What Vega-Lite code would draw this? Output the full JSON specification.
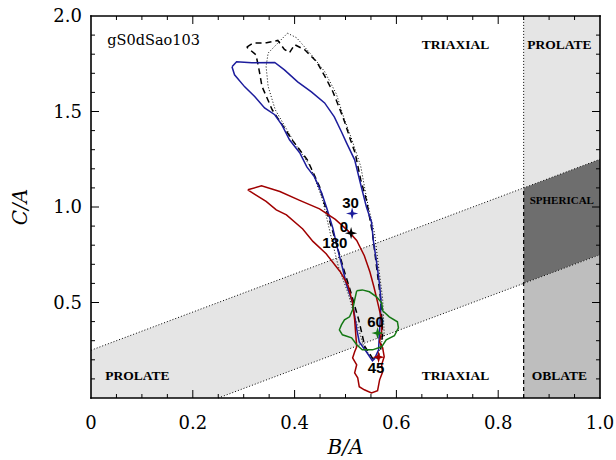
{
  "$schema": "https://vega.github.io/schema/vega-lite/v6.json",
  "width": 509,
  "height": 382,
  "autosize": {"type": "none"},
  "padding": {"left": 91, "top": 16, "right": 16, "bottom": 62},
  "background": "white",
  "config": {"view": {"stroke": null}},
  "datasets": {
    "bands": [
      {"g": "L", "b": 0, "lo": 0, "hi": 0.25},
      {"g": "L", "b": 0.25, "lo": 0, "hi": 0.5},
      {"g": "L", "b": 0.85, "lo": 0.6, "hi": 1.1},
      {"g": "P", "b": 0.85, "lo": 1.1, "hi": 2},
      {"g": "P", "b": 1, "lo": 1.25, "hi": 2},
      {"g": "S", "b": 0.85, "lo": 0.6, "hi": 1.1},
      {"g": "S", "b": 1, "lo": 0.75, "hi": 1.25},
      {"g": "O", "b": 0.85, "lo": 0, "hi": 0.6},
      {"g": "O", "b": 1, "lo": 0, "hi": 0.75}
    ],
    "rules": [
      {"k": "dot", "b": 0, "c": 0.25, "b2": 1, "c2": 1.25},
      {"k": "dot", "b": 0.25, "c": 0, "b2": 1, "c2": 0.75},
      {"k": "dot", "b": 0.85, "c": 1.1, "b2": 0.85, "c2": 2},
      {"k": "dash", "b": 0.85, "c": 0, "b2": 0.85, "c2": 1.1}
    ],
    "frame": [
      {"b": 0, "c": 0, "b2": 1, "c2": 0},
      {"b": 0, "c": 2, "b2": 1, "c2": 2},
      {"b": 0, "c": 0, "b2": 0, "c2": 2},
      {"b": 1, "c": 0, "b2": 1, "c2": 2}
    ],
    "xlab": [{"v": 0, "t": "0"}, {"v": 0.2, "t": "0.2"}, {"v": 0.4, "t": "0.4"}, {"v": 0.6, "t": "0.6"}, {"v": 0.8, "t": "0.8"}, {"v": 1, "t": "1.0"}],
    "ylab": [{"v": 0.5, "t": "0.5"}, {"v": 1, "t": "1.0"}, {"v": 1.5, "t": "1.5"}, {"v": 2, "t": "2.0"}],
    "xtitle": [{"v": 0.5, "t": "B/A"}],
    "ytitle": [{"v": 1, "t": "C/A"}],
    "xmaj": [{"v": 0.2}, {"v": 0.4}, {"v": 0.6}, {"v": 0.8}],
    "xmin": [{"v": 0.05}, {"v": 0.1}, {"v": 0.15}, {"v": 0.25}, {"v": 0.3}, {"v": 0.35}, {"v": 0.45}, {"v": 0.5}, {"v": 0.55}, {"v": 0.65}, {"v": 0.7}, {"v": 0.75}, {"v": 0.85}, {"v": 0.9}, {"v": 0.95}],
    "ymaj": [{"v": 0.5}, {"v": 1.0}, {"v": 1.5}],
    "ymin": [{"v": 0.1}, {"v": 0.2}, {"v": 0.3}, {"v": 0.4}, {"v": 0.6}, {"v": 0.7}, {"v": 0.8}, {"v": 0.9}, {"v": 1.1}, {"v": 1.2}, {"v": 1.3}, {"v": 1.4}, {"v": 1.6}, {"v": 1.7}, {"v": 1.8}, {"v": 1.9}],
    "cont": [
      {"s": "dot", "i": 0, "b": 0.386, "c": 1.910},
      {"s": "dot", "i": 1, "b": 0.404, "c": 1.886},
      {"s": "dot", "i": 2, "b": 0.433, "c": 1.797},
      {"s": "dot", "i": 3, "b": 0.459, "c": 1.709},
      {"s": "dot", "i": 4, "b": 0.482, "c": 1.592},
      {"s": "dot", "i": 5, "b": 0.497, "c": 1.465},
      {"s": "dot", "i": 6, "b": 0.513, "c": 1.350},
      {"s": "dot", "i": 7, "b": 0.530, "c": 1.212},
      {"s": "dot", "i": 8, "b": 0.542, "c": 1.038},
      {"s": "dot", "i": 9, "b": 0.557, "c": 0.863},
      {"s": "dot", "i": 10, "b": 0.565, "c": 0.688},
      {"s": "dot", "i": 11, "b": 0.573, "c": 0.519},
      {"s": "dot", "i": 12, "b": 0.576, "c": 0.340},
      {"s": "dot", "i": 13, "b": 0.563, "c": 0.217},
      {"s": "dot", "i": 14, "b": 0.553, "c": 0.200},
      {"s": "dot", "i": 15, "b": 0.536, "c": 0.270},
      {"s": "dot", "i": 16, "b": 0.520, "c": 0.409},
      {"s": "dot", "i": 17, "b": 0.505, "c": 0.549},
      {"s": "dot", "i": 18, "b": 0.486, "c": 0.688},
      {"s": "dot", "i": 19, "b": 0.470, "c": 0.863},
      {"s": "dot", "i": 20, "b": 0.455, "c": 1.038},
      {"s": "dot", "i": 21, "b": 0.431, "c": 1.212},
      {"s": "dot", "i": 22, "b": 0.400, "c": 1.335},
      {"s": "dot", "i": 23, "b": 0.362, "c": 1.509},
      {"s": "dot", "i": 24, "b": 0.348, "c": 1.631},
      {"s": "dot", "i": 25, "b": 0.344, "c": 1.736},
      {"s": "dot", "i": 26, "b": 0.348, "c": 1.806},
      {"s": "dot", "i": 27, "b": 0.386, "c": 1.910},

      {"s": "dash", "i": 0, "b": 0.306, "c": 1.837},
      {"s": "dash", "i": 1, "b": 0.318, "c": 1.858},
      {"s": "dash", "i": 2, "b": 0.345, "c": 1.860},
      {"s": "dash", "i": 3, "b": 0.367, "c": 1.872},
      {"s": "dash", "i": 4, "b": 0.380, "c": 1.825},
      {"s": "dash", "i": 5, "b": 0.390, "c": 1.808},
      {"s": "dash", "i": 6, "b": 0.400, "c": 1.850},
      {"s": "dash", "i": 7, "b": 0.420, "c": 1.823},
      {"s": "dash", "i": 8, "b": 0.443, "c": 1.762},
      {"s": "dash", "i": 9, "b": 0.459, "c": 1.686},
      {"s": "dash", "i": 10, "b": 0.475, "c": 1.605},
      {"s": "dash", "i": 11, "b": 0.488, "c": 1.518},
      {"s": "dash", "i": 12, "b": 0.498, "c": 1.448},
      {"s": "dash", "i": 13, "b": 0.510, "c": 1.350},
      {"s": "dash", "i": 14, "b": 0.519, "c": 1.282},
      {"s": "dash", "i": 15, "b": 0.530, "c": 1.142},
      {"s": "dash", "i": 16, "b": 0.541, "c": 1.038},
      {"s": "dash", "i": 17, "b": 0.553, "c": 0.863},
      {"s": "dash", "i": 18, "b": 0.561, "c": 0.688},
      {"s": "dash", "i": 19, "b": 0.569, "c": 0.519},
      {"s": "dash", "i": 20, "b": 0.573, "c": 0.340},
      {"s": "dash", "i": 21, "b": 0.569, "c": 0.252},
      {"s": "dash", "i": 22, "b": 0.561, "c": 0.200},
      {"s": "dash", "i": 23, "b": 0.553, "c": 0.209},
      {"s": "dash", "i": 24, "b": 0.538, "c": 0.270},
      {"s": "dash", "i": 25, "b": 0.526, "c": 0.409},
      {"s": "dash", "i": 26, "b": 0.511, "c": 0.549},
      {"s": "dash", "i": 27, "b": 0.495, "c": 0.688},
      {"s": "dash", "i": 28, "b": 0.480, "c": 0.828},
      {"s": "dash", "i": 29, "b": 0.464, "c": 0.968},
      {"s": "dash", "i": 30, "b": 0.449, "c": 1.107},
      {"s": "dash", "i": 31, "b": 0.425, "c": 1.247},
      {"s": "dash", "i": 32, "b": 0.395, "c": 1.352},
      {"s": "dash", "i": 33, "b": 0.356, "c": 1.509},
      {"s": "dash", "i": 34, "b": 0.336, "c": 1.631},
      {"s": "dash", "i": 35, "b": 0.329, "c": 1.736},
      {"s": "dash", "i": 36, "b": 0.324, "c": 1.797},
      {"s": "dash", "i": 37, "b": 0.306, "c": 1.837},

      {"s": "blue", "i": 0, "b": 0.277, "c": 1.734},
      {"s": "blue", "i": 1, "b": 0.286, "c": 1.760},
      {"s": "blue", "i": 2, "b": 0.316, "c": 1.755},
      {"s": "blue", "i": 3, "b": 0.361, "c": 1.757},
      {"s": "blue", "i": 4, "b": 0.380, "c": 1.718},
      {"s": "blue", "i": 5, "b": 0.406, "c": 1.655},
      {"s": "blue", "i": 6, "b": 0.433, "c": 1.603},
      {"s": "blue", "i": 7, "b": 0.459, "c": 1.545},
      {"s": "blue", "i": 8, "b": 0.478, "c": 1.472},
      {"s": "blue", "i": 9, "b": 0.492, "c": 1.394},
      {"s": "blue", "i": 10, "b": 0.502, "c": 1.336},
      {"s": "blue", "i": 11, "b": 0.518, "c": 1.247},
      {"s": "blue", "i": 12, "b": 0.531, "c": 1.106},
      {"s": "blue", "i": 13, "b": 0.541, "c": 1.001},
      {"s": "blue", "i": 14, "b": 0.551, "c": 0.922},
      {"s": "blue", "i": 15, "b": 0.555, "c": 0.818},
      {"s": "blue", "i": 16, "b": 0.561, "c": 0.713},
      {"s": "blue", "i": 17, "b": 0.567, "c": 0.593},
      {"s": "blue", "i": 18, "b": 0.570, "c": 0.498},
      {"s": "blue", "i": 19, "b": 0.567, "c": 0.357},
      {"s": "blue", "i": 20, "b": 0.565, "c": 0.252},
      {"s": "blue", "i": 21, "b": 0.557, "c": 0.205},
      {"s": "blue", "i": 22, "b": 0.553, "c": 0.195},
      {"s": "blue", "i": 23, "b": 0.541, "c": 0.242},
      {"s": "blue", "i": 24, "b": 0.527, "c": 0.294},
      {"s": "blue", "i": 25, "b": 0.522, "c": 0.362},
      {"s": "blue", "i": 26, "b": 0.514, "c": 0.498},
      {"s": "blue", "i": 27, "b": 0.502, "c": 0.593},
      {"s": "blue", "i": 28, "b": 0.494, "c": 0.682},
      {"s": "blue", "i": 29, "b": 0.484, "c": 0.786},
      {"s": "blue", "i": 30, "b": 0.475, "c": 0.891},
      {"s": "blue", "i": 31, "b": 0.463, "c": 0.996},
      {"s": "blue", "i": 32, "b": 0.453, "c": 1.074},
      {"s": "blue", "i": 33, "b": 0.439, "c": 1.158},
      {"s": "blue", "i": 34, "b": 0.424, "c": 1.210},
      {"s": "blue", "i": 35, "b": 0.410, "c": 1.284},
      {"s": "blue", "i": 36, "b": 0.390, "c": 1.352},
      {"s": "blue", "i": 37, "b": 0.375, "c": 1.430},
      {"s": "blue", "i": 38, "b": 0.361, "c": 1.483},
      {"s": "blue", "i": 39, "b": 0.341, "c": 1.519},
      {"s": "blue", "i": 40, "b": 0.322, "c": 1.577},
      {"s": "blue", "i": 41, "b": 0.302, "c": 1.629},
      {"s": "blue", "i": 42, "b": 0.282, "c": 1.692},
      {"s": "blue", "i": 43, "b": 0.277, "c": 1.734},

      {"s": "red", "i": 0, "b": 0.308, "c": 1.090},
      {"s": "red", "i": 1, "b": 0.335, "c": 1.111},
      {"s": "red", "i": 2, "b": 0.371, "c": 1.081},
      {"s": "red", "i": 3, "b": 0.410, "c": 1.035},
      {"s": "red", "i": 4, "b": 0.449, "c": 0.990},
      {"s": "red", "i": 5, "b": 0.480, "c": 0.935},
      {"s": "red", "i": 6, "b": 0.505, "c": 0.875},
      {"s": "red", "i": 7, "b": 0.522, "c": 0.825},
      {"s": "red", "i": 8, "b": 0.537, "c": 0.745},
      {"s": "red", "i": 9, "b": 0.548, "c": 0.660},
      {"s": "red", "i": 10, "b": 0.556, "c": 0.580},
      {"s": "red", "i": 11, "b": 0.565, "c": 0.480},
      {"s": "red", "i": 12, "b": 0.571, "c": 0.409},
      {"s": "red", "i": 13, "b": 0.571, "c": 0.347},
      {"s": "red", "i": 14, "b": 0.567, "c": 0.294},
      {"s": "red", "i": 15, "b": 0.573, "c": 0.263},
      {"s": "red", "i": 16, "b": 0.576, "c": 0.216},
      {"s": "red", "i": 17, "b": 0.571, "c": 0.174},
      {"s": "red", "i": 18, "b": 0.573, "c": 0.137},
      {"s": "red", "i": 19, "b": 0.567, "c": 0.095},
      {"s": "red", "i": 20, "b": 0.563, "c": 0.038},
      {"s": "red", "i": 21, "b": 0.551, "c": 0.027},
      {"s": "red", "i": 22, "b": 0.537, "c": 0.043},
      {"s": "red", "i": 23, "b": 0.527, "c": 0.059},
      {"s": "red", "i": 24, "b": 0.524, "c": 0.106},
      {"s": "red", "i": 25, "b": 0.518, "c": 0.132},
      {"s": "red", "i": 26, "b": 0.522, "c": 0.174},
      {"s": "red", "i": 27, "b": 0.514, "c": 0.210},
      {"s": "red", "i": 28, "b": 0.518, "c": 0.242},
      {"s": "red", "i": 29, "b": 0.522, "c": 0.268},
      {"s": "red", "i": 30, "b": 0.518, "c": 0.409},
      {"s": "red", "i": 31, "b": 0.514, "c": 0.497},
      {"s": "red", "i": 32, "b": 0.505, "c": 0.590},
      {"s": "red", "i": 33, "b": 0.490, "c": 0.660},
      {"s": "red", "i": 34, "b": 0.462, "c": 0.755},
      {"s": "red", "i": 35, "b": 0.436, "c": 0.820},
      {"s": "red", "i": 36, "b": 0.416, "c": 0.885},
      {"s": "red", "i": 37, "b": 0.384, "c": 0.959},
      {"s": "red", "i": 38, "b": 0.364, "c": 0.985},
      {"s": "red", "i": 39, "b": 0.344, "c": 1.029},
      {"s": "red", "i": 40, "b": 0.308, "c": 1.090},

      {"s": "green", "i": 0, "b": 0.522, "c": 0.561},
      {"s": "green", "i": 1, "b": 0.533, "c": 0.566},
      {"s": "green", "i": 2, "b": 0.547, "c": 0.556},
      {"s": "green", "i": 3, "b": 0.561, "c": 0.530},
      {"s": "green", "i": 4, "b": 0.571, "c": 0.498},
      {"s": "green", "i": 5, "b": 0.573, "c": 0.457},
      {"s": "green", "i": 6, "b": 0.586, "c": 0.425},
      {"s": "green", "i": 7, "b": 0.602, "c": 0.399},
      {"s": "green", "i": 8, "b": 0.604, "c": 0.367},
      {"s": "green", "i": 9, "b": 0.596, "c": 0.326},
      {"s": "green", "i": 10, "b": 0.580, "c": 0.305},
      {"s": "green", "i": 11, "b": 0.571, "c": 0.268},
      {"s": "green", "i": 12, "b": 0.553, "c": 0.252},
      {"s": "green", "i": 13, "b": 0.533, "c": 0.252},
      {"s": "green", "i": 14, "b": 0.522, "c": 0.279},
      {"s": "green", "i": 15, "b": 0.512, "c": 0.315},
      {"s": "green", "i": 16, "b": 0.494, "c": 0.331},
      {"s": "green", "i": 17, "b": 0.488, "c": 0.357},
      {"s": "green", "i": 18, "b": 0.492, "c": 0.383},
      {"s": "green", "i": 19, "b": 0.498, "c": 0.409},
      {"s": "green", "i": 20, "b": 0.508, "c": 0.425},
      {"s": "green", "i": 21, "b": 0.514, "c": 0.462},
      {"s": "green", "i": 22, "b": 0.518, "c": 0.514},
      {"s": "green", "i": 23, "b": 0.522, "c": 0.561}
    ],
    "markers": [
      {"s": "blue", "b": 0.513, "c": 0.966},
      {"s": "black", "b": 0.511, "c": 0.863},
      {"s": "green", "b": 0.563, "c": 0.340},
      {"s": "red", "b": 0.565, "c": 0.214}
    ],
    "mlabels": [
      {"t": "30", "b": 0.510, "c": 1.022},
      {"t": "0", "b": 0.497, "c": 0.897},
      {"t": "180", "b": 0.479, "c": 0.810},
      {"t": "60", "b": 0.559, "c": 0.399},
      {"t": "45", "b": 0.560, "c": 0.158}
    ],
    "regions": [
      {"t": "TRIAXIAL", "b": 0.716, "c": 1.849},
      {"t": "PROLATE", "b": 0.920, "c": 1.849},
      {"t": "PROLATE", "b": 0.091, "c": 0.113},
      {"t": "TRIAXIAL", "b": 0.716, "c": 0.113},
      {"t": "OBLATE", "b": 0.920, "c": 0.113}
    ],
    "small": [
      {"t": "SPHERICAL", "b": 0.925, "c": 1.031}
    ],
    "name": [
      {"t": "gS0dSao103", "b": 0.032, "c": 1.867}
    ]
  },
  "layer": [
    {
      "data": {"name": "bands"},
      "mark": {"type": "area", "opacity": 1},
      "encoding": {
        "x": {"field": "b", "type": "quantitative", "scale": {"domain": [0, 1], "nice": false, "zero": false}, "axis": null},
        "y": {"field": "lo", "type": "quantitative", "scale": {"domain": [0, 2], "nice": false, "zero": false}, "axis": null},
        "y2": {"field": "hi"},
        "fill": {"field": "g", "type": "nominal", "legend": null,
          "scale": {"domain": ["L", "P", "S", "O"], "range": ["#e5e5e5", "#e5e5e5", "#6e6e6e", "#bebebe"]}}
      }
    },
    {
      "data": {"name": "rules"},
      "transform": [{"filter": "datum.k == 'dot'"}],
      "mark": {"type": "rule", "color": "black", "strokeWidth": 1, "strokeDash": [1, 2]},
      "encoding": {
        "x": {"field": "b", "type": "quantitative", "scale": {"domain": [0, 1], "nice": false, "zero": false}, "axis": null},
        "y": {"field": "c", "type": "quantitative", "scale": {"domain": [0, 2], "nice": false, "zero": false}, "axis": null},
        "x2": {"field": "b2"},
        "y2": {"field": "c2"}
      }
    },
    {
      "data": {"name": "rules"},
      "transform": [{"filter": "datum.k == 'dash'"}],
      "mark": {"type": "rule", "color": "black", "strokeWidth": 1.2, "strokeDash": [4, 3]},
      "encoding": {
        "x": {"field": "b", "type": "quantitative", "scale": {"domain": [0, 1], "nice": false, "zero": false}, "axis": null},
        "y": {"field": "c", "type": "quantitative", "scale": {"domain": [0, 2], "nice": false, "zero": false}, "axis": null},
        "x2": {"field": "b2"},
        "y2": {"field": "c2"}
      }
    },
    {
      "data": {"name": "cont"},
      "transform": [{"filter": "datum.s == 'dot'"}],
      "mark": {"type": "line", "color": "black", "strokeWidth": 1, "strokeDash": [1, 2]},
      "encoding": {
        "x": {"field": "b", "type": "quantitative", "scale": {"domain": [0, 1], "nice": false, "zero": false}, "axis": null},
        "y": {"field": "c", "type": "quantitative", "scale": {"domain": [0, 2], "nice": false, "zero": false}, "axis": null},
        "order": {"field": "i", "type": "quantitative"}
      }
    },
    {
      "data": {"name": "cont"},
      "transform": [{"filter": "datum.s == 'dash'"}],
      "mark": {"type": "line", "color": "black", "strokeWidth": 1.5, "strokeDash": [6, 4]},
      "encoding": {
        "x": {"field": "b", "type": "quantitative", "scale": {"domain": [0, 1], "nice": false, "zero": false}, "axis": null},
        "y": {"field": "c", "type": "quantitative", "scale": {"domain": [0, 2], "nice": false, "zero": false}, "axis": null},
        "order": {"field": "i", "type": "quantitative"}
      }
    },
    {
      "data": {"name": "cont"},
      "transform": [{"filter": "datum.s == 'blue' || datum.s == 'red' || datum.s == 'green'"}],
      "mark": {"type": "line", "strokeWidth": 1.5},
      "encoding": {
        "x": {"field": "b", "type": "quantitative", "scale": {"domain": [0, 1], "nice": false, "zero": false}, "axis": null},
        "y": {"field": "c", "type": "quantitative", "scale": {"domain": [0, 2], "nice": false, "zero": false}, "axis": null},
        "color": {"field": "s", "type": "nominal", "legend": null,
          "scale": {"domain": ["blue", "red", "green", "black"], "range": ["#1c1c9c", "#a00000", "#147814", "#000000"]}},
        "order": {"field": "i", "type": "quantitative"}
      }
    },
    {
      "data": {"name": "frame"},
      "mark": {"type": "rule", "color": "black", "strokeWidth": 1.6, "strokeCap": "square"},
      "encoding": {
        "x": {"field": "b", "type": "quantitative", "scale": {"domain": [0, 1], "nice": false, "zero": false}, "axis": null},
        "y": {"field": "c", "type": "quantitative", "scale": {"domain": [0, 2], "nice": false, "zero": false}, "axis": null},
        "x2": {"field": "b2"},
        "y2": {"field": "c2"}
      }
    },
    {
      "data": {"name": "xmaj"},
      "mark": {"type": "point", "shape": "M0,0L0,-2", "size": 64, "filled": false, "opacity": 1, "color": "black", "strokeWidth": 1},
      "encoding": {
        "x": {"field": "v", "type": "quantitative", "scale": {"domain": [0, 1], "nice": false, "zero": false}, "axis": null},
        "y": {"datum": 0, "type": "quantitative", "scale": {"domain": [0, 2], "nice": false, "zero": false}, "axis": null}
      }
    },
    {
      "data": {"name": "xmaj"},
      "mark": {"type": "point", "shape": "M0,0L0,2", "size": 64, "filled": false, "opacity": 1, "color": "black", "strokeWidth": 1},
      "encoding": {
        "x": {"field": "v", "type": "quantitative", "scale": {"domain": [0, 1], "nice": false, "zero": false}, "axis": null},
        "y": {"datum": 2, "type": "quantitative", "scale": {"domain": [0, 2], "nice": false, "zero": false}, "axis": null}
      }
    },
    {
      "data": {"name": "xmin"},
      "mark": {"type": "point", "shape": "M0,0L0,-2", "size": 16, "filled": false, "opacity": 1, "color": "black", "strokeWidth": 1},
      "encoding": {
        "x": {"field": "v", "type": "quantitative", "scale": {"domain": [0, 1], "nice": false, "zero": false}, "axis": null},
        "y": {"datum": 0, "type": "quantitative", "scale": {"domain": [0, 2], "nice": false, "zero": false}, "axis": null}
      }
    },
    {
      "data": {"name": "xmin"},
      "mark": {"type": "point", "shape": "M0,0L0,2", "size": 16, "filled": false, "opacity": 1, "color": "black", "strokeWidth": 1},
      "encoding": {
        "x": {"field": "v", "type": "quantitative", "scale": {"domain": [0, 1], "nice": false, "zero": false}, "axis": null},
        "y": {"datum": 2, "type": "quantitative", "scale": {"domain": [0, 2], "nice": false, "zero": false}, "axis": null}
      }
    },
    {
      "data": {"name": "ymaj"},
      "mark": {"type": "point", "shape": "M0,0L2,0", "size": 64, "filled": false, "opacity": 1, "color": "black", "strokeWidth": 1},
      "encoding": {
        "y": {"field": "v", "type": "quantitative", "scale": {"domain": [0, 2], "nice": false, "zero": false}, "axis": null},
        "x": {"datum": 0, "type": "quantitative", "scale": {"domain": [0, 1], "nice": false, "zero": false}, "axis": null}
      }
    },
    {
      "data": {"name": "ymaj"},
      "mark": {"type": "point", "shape": "M0,0L-2,0", "size": 64, "filled": false, "opacity": 1, "color": "black", "strokeWidth": 1},
      "encoding": {
        "y": {"field": "v", "type": "quantitative", "scale": {"domain": [0, 2], "nice": false, "zero": false}, "axis": null},
        "x": {"datum": 1, "type": "quantitative", "scale": {"domain": [0, 1], "nice": false, "zero": false}, "axis": null}
      }
    },
    {
      "data": {"name": "ymin"},
      "mark": {"type": "point", "shape": "M0,0L2,0", "size": 16, "filled": false, "opacity": 1, "color": "black", "strokeWidth": 1},
      "encoding": {
        "y": {"field": "v", "type": "quantitative", "scale": {"domain": [0, 2], "nice": false, "zero": false}, "axis": null},
        "x": {"datum": 0, "type": "quantitative", "scale": {"domain": [0, 1], "nice": false, "zero": false}, "axis": null}
      }
    },
    {
      "data": {"name": "ymin"},
      "mark": {"type": "point", "shape": "M0,0L-2,0", "size": 16, "filled": false, "opacity": 1, "color": "black", "strokeWidth": 1},
      "encoding": {
        "y": {"field": "v", "type": "quantitative", "scale": {"domain": [0, 2], "nice": false, "zero": false}, "axis": null},
        "x": {"datum": 1, "type": "quantitative", "scale": {"domain": [0, 1], "nice": false, "zero": false}, "axis": null}
      }
    },
    {
      "data": {"name": "xlab"},
      "mark": {"type": "text", "font": "DejaVu Serif", "fontSize": 18, "color": "black", "align": "center", "baseline": "middle", "dy": 26},
      "encoding": {
        "x": {"field": "v", "type": "quantitative", "scale": {"domain": [0, 1], "nice": false, "zero": false}, "axis": null},
        "y": {"datum": 0, "type": "quantitative", "scale": {"domain": [0, 2], "nice": false, "zero": false}, "axis": null},
        "text": {"field": "t"}
      }
    },
    {
      "data": {"name": "ylab"},
      "mark": {"type": "text", "font": "DejaVu Serif", "fontSize": 18, "color": "black", "align": "right", "baseline": "middle", "dx": -9, "dy": 1},
      "encoding": {
        "y": {"field": "v", "type": "quantitative", "scale": {"domain": [0, 2], "nice": false, "zero": false}, "axis": null},
        "x": {"datum": 0, "type": "quantitative", "scale": {"domain": [0, 1], "nice": false, "zero": false}, "axis": null},
        "text": {"field": "t"}
      }
    },
    {
      "data": {"name": "xtitle"},
      "mark": {"type": "text", "font": "DejaVu Serif", "fontStyle": "italic", "fontSize": 20, "color": "black", "align": "center", "baseline": "middle", "dy": 50},
      "encoding": {
        "x": {"field": "v", "type": "quantitative", "scale": {"domain": [0, 1], "nice": false, "zero": false}, "axis": null},
        "y": {"datum": 0, "type": "quantitative", "scale": {"domain": [0, 2], "nice": false, "zero": false}, "axis": null},
        "text": {"field": "t"}
      }
    },
    {
      "data": {"name": "ytitle"},
      "mark": {"type": "text", "font": "DejaVu Serif", "fontStyle": "italic", "fontSize": 20, "color": "black", "align": "center", "baseline": "middle", "angle": 270, "dy": -70},
      "encoding": {
        "y": {"field": "v", "type": "quantitative", "scale": {"domain": [0, 2], "nice": false, "zero": false}, "axis": null},
        "x": {"datum": 0, "type": "quantitative", "scale": {"domain": [0, 1], "nice": false, "zero": false}, "axis": null},
        "text": {"field": "t"}
      }
    },
    {
      "data": {"name": "markers"},
      "mark": {"type": "point", "filled": true, "opacity": 1, "size": 150,
        "shape": "M0,-1L0.22,-0.22L1,0L0.22,0.22L0,1L-0.22,0.22L-1,0L-0.22,-0.22Z"},
      "encoding": {
        "x": {"field": "b", "type": "quantitative", "scale": {"domain": [0, 1], "nice": false, "zero": false}, "axis": null},
        "y": {"field": "c", "type": "quantitative", "scale": {"domain": [0, 2], "nice": false, "zero": false}, "axis": null},
        "color": {"field": "s", "type": "nominal", "legend": null,
          "scale": {"domain": ["blue", "red", "green", "black"], "range": ["#1c1c9c", "#a00000", "#147814", "#000000"]}}
      }
    },
    {
      "data": {"name": "mlabels"},
      "mark": {"type": "text", "font": "Liberation Sans", "fontWeight": "bold", "fontSize": 15, "color": "black", "align": "center", "baseline": "middle"},
      "encoding": {
        "x": {"field": "b", "type": "quantitative", "scale": {"domain": [0, 1], "nice": false, "zero": false}, "axis": null},
        "y": {"field": "c", "type": "quantitative", "scale": {"domain": [0, 2], "nice": false, "zero": false}, "axis": null},
        "text": {"field": "t"}
      }
    },
    {
      "data": {"name": "regions"},
      "mark": {"type": "text", "font": "Liberation Serif", "fontWeight": "bold", "fontSize": 13.5, "color": "black", "align": "center", "baseline": "middle"},
      "encoding": {
        "x": {"field": "b", "type": "quantitative", "scale": {"domain": [0, 1], "nice": false, "zero": false}, "axis": null},
        "y": {"field": "c", "type": "quantitative", "scale": {"domain": [0, 2], "nice": false, "zero": false}, "axis": null},
        "text": {"field": "t"}
      }
    },
    {
      "data": {"name": "small"},
      "mark": {"type": "text", "font": "Liberation Serif", "fontWeight": "bold", "fontSize": 11, "color": "black", "align": "center", "baseline": "middle"},
      "encoding": {
        "x": {"field": "b", "type": "quantitative", "scale": {"domain": [0, 1], "nice": false, "zero": false}, "axis": null},
        "y": {"field": "c", "type": "quantitative", "scale": {"domain": [0, 2], "nice": false, "zero": false}, "axis": null},
        "text": {"field": "t"}
      }
    },
    {
      "data": {"name": "name"},
      "mark": {"type": "text", "font": "DejaVu Serif", "fontSize": 14.5, "color": "black", "align": "left", "baseline": "middle"},
      "encoding": {
        "x": {"field": "b", "type": "quantitative", "scale": {"domain": [0, 1], "nice": false, "zero": false}, "axis": null},
        "y": {"field": "c", "type": "quantitative", "scale": {"domain": [0, 2], "nice": false, "zero": false}, "axis": null},
        "text": {"field": "t"}
      }
    }
  ]
}
